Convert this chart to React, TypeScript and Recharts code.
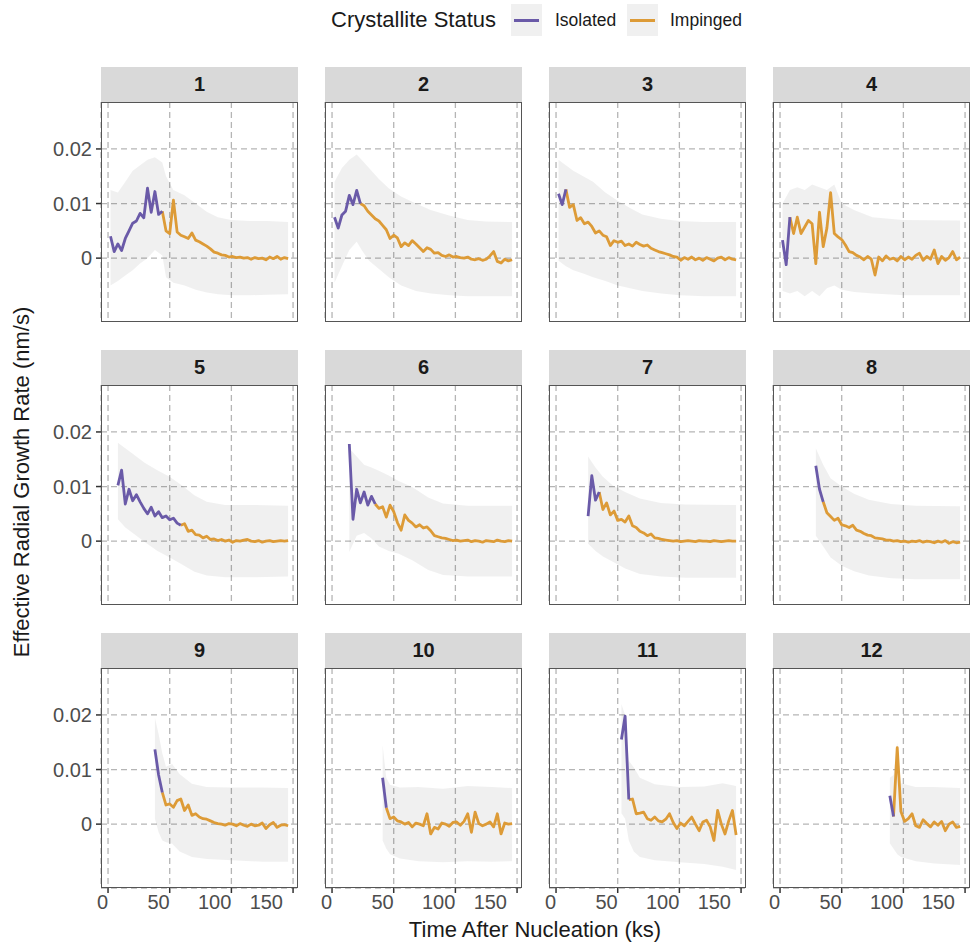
import { ComposedChart, Line, Area, XAxis, YAxis, CartesianGrid } from 'recharts';

const FONT = '"Liberation Sans", Arial, Helvetica, sans-serif';
const ISOLATED = '#6a5aa8';
const IMPINGED = '#dd9b37';

// shared sampling times (ks)
const TIME = [
  2, 5, 8, 11, 14, 17, 20, 23, 26, 29, 32, 35, 38, 41, 44, 47, 50, 53, 56, 59, 62, 65, 68, 71, 74,
  77, 80, 83, 86, 89, 92, 95, 98, 101, 104, 107, 110, 113, 116, 119, 122, 125, 128, 131, 134, 137,
  140, 143, 146,
];
const X_TICKS = [0, 50, 100, 150];
const Y_TICKS = [0, 0.01, 0.02];
const MILLI = 0.001; // rates and bands below are written in 10^-3 nm/s

const RATE_1 = [4.0, 1.2, 2.6, 1.4, 3.6, 5.0, 6.4, 6.8, 8.2, 7.4, 12.8, 8.4, 12.2, 8.0, 8.6, 5.0, 4.5, 10.6, 4.8, 4.2, 3.9, 3.6, 4.6, 3.3, 3.0, 2.6, 2.2, 1.7, 1.1, 0.9, 0.6, 0.5, 0.2, 0.3, 0.1, 0.2, 0.0, 0.1, -0.2, 0.1, -0.1, 0.0, -0.3, 0.2, -0.1, 0.3, -0.2, 0.1, -0.1];
const RATE_2 = [7.5, 5.5, 7.9, 8.6, 11.5, 9.8, 12.4, 10.0, 9.6, 8.6, 7.9, 7.2, 6.8, 6.0, 5.2, 3.6, 4.2, 3.7, 2.1, 2.8, 2.3, 3.2, 2.6, 1.9, 1.2, 1.9, 1.6, 0.9, 1.0, 0.5, 0.3, 0.6, 0.2, 0.3, 0.1, 0.0, 0.2, -0.2, -0.3, -0.1, -0.4, -0.2, 0.4, 1.2, -0.6, -0.9, -0.2, -0.5, -0.3];
const RATE_3 = [11.8, 9.8, 12.6, 9.3, 9.8, 6.9, 7.4, 6.3, 6.6, 5.8, 4.6, 5.0, 4.2, 3.9, 2.3, 3.2, 2.9, 3.1, 2.3, 2.6, 2.2, 2.9, 2.5, 2.2, 2.4, 1.8, 1.5, 1.2, 1.0, 0.8, 0.6, 0.3, 0.2, -0.4, 0.1, -0.2, 0.2, -0.3, 0.0, -0.4, 0.1, -0.2, -0.5, 0.0, 0.2, -0.3, 0.1, -0.2, -0.3];
const RATE_4 = [3.3, -1.2, 7.5, 4.5, 7.5, 4.5, 5.7, 6.9, 6.3, -1.0, 8.4, 2.1, 5.5, 12.0, 4.5, 3.9, 3.4, 2.4, 1.2, 1.0, 0.5, 0.2, -0.3, 0.3, -0.2, -3.1, 0.2, -0.5, 0.4, -0.2, 0.0, -0.5, 0.3, -0.3, 0.2, -0.2, 0.5, 0.9, -0.4, 0.3, -0.2, 1.5, -1.0, 0.3, -0.4, 0.1, 1.2, -0.3, 0.2];
const RATE_5 = [10.2, 13.0, 6.8, 9.5, 7.4, 8.5, 7.2, 6.0, 5.0, 6.2, 4.6, 5.4, 4.3, 4.6, 3.9, 4.2, 3.3, 2.9, 3.2, 1.8, 2.0, 1.2, 1.1, 0.6, 0.9, 0.3, 0.4, 0.1, 0.3, 0.0, 0.2, -0.2, 0.1, 0.0, 0.2, 0.3, 0.0, -0.1, 0.1, -0.2, 0.0, 0.1, -0.1, 0.0, 0.1, 0.0, 0.1];
const RATE_6 = [17.8, 4.0, 9.5, 7.0, 9.0, 6.6, 8.2, 6.8, 6.0, 6.3, 4.4, 6.6, 5.4, 3.4, 2.0, 4.8, 3.8, 3.3, 2.6, 3.0, 2.4, 2.6, 1.9, 1.0, 0.8, 0.6, 0.5, 0.3, 0.1, 0.2, 0.0, 0.1, 0.2, -0.1, 0.1, 0.0, -0.2, 0.1, 0.0, -0.1, 0.2, 0.0, -0.1, 0.1, 0.0];
const RATE_7 = [4.6, 12.0, 7.5, 9.0, 5.8, 7.0, 4.8, 5.5, 3.8, 4.0, 3.5, 4.6, 2.8, 2.5, 1.8, 1.5, 1.0, 1.3, 0.6, 0.5, 0.3, 0.2, 0.1, 0.0, 0.1, -0.1, 0.0, 0.1, 0.0, -0.1, 0.1, 0.0, 0.0, -0.1, 0.1, 0.0, -0.1, 0.0, 0.1, 0.0, 0.0];
const RATE_8 = [13.8, 9.5, 7.2, 5.2, 4.5, 3.8, 4.2, 3.0, 2.8, 2.5, 2.9, 2.0, 1.8, 1.4, 1.1, 1.0, 0.6, 0.5, 0.4, 0.2, 0.2, 0.0, 0.1, -0.1, 0.0, -0.2, 0.0, -0.1, 0.1, -0.2, 0.0, -0.1, -0.3, 0.0, -0.2, 0.1, -0.4, -0.1, -0.3, -0.2];
const RATE_9 = [13.7, 9.0, 5.8, 3.5, 3.7, 3.1, 4.3, 4.6, 2.5, 3.5, 1.6, 1.9, 1.3, 1.0, 0.9, 0.6, 0.3, 0.1, 0.0, -0.2, 0.1, 0.0, -0.3, 0.1, -0.2, -0.4, 0.0, -0.3, -0.2, 0.2, -0.8, -0.1, 0.3, -0.6, -0.2, -0.1, -0.3];
const RATE_10 = [8.5, 3.0, 1.0, 1.3, 0.6, 0.4, 0.0, 0.3, -0.5, 0.2, 0.0, -0.3, 1.9, -1.8, -0.6, -0.9, 0.2, 0.0, -0.4, 0.3, 0.4, -0.2, 0.5, 1.9, -1.5, 2.2, 0.1, -0.3, 0.0, 0.4, -0.5, 1.9, -1.8, 0.2, 0.0, 0.1];
const RATE_11 = [15.5, 19.8, 4.5, 4.6, 1.9, 2.0, 2.2, 1.0, 0.7, 1.3, 0.6, 0.4, 0.9, 1.9, 0.3, -0.8, 0.2, -0.3, 0.5, 1.3, 0.0, -1.2, 0.4, 0.7, -0.5, -3.0, 2.5, 0.0, -1.8, 0.6, 2.5, -2.0];
const RATE_12 = [5.2, 1.4, 14.0, 2.3, 0.5, 1.0, 1.9, -0.3, -0.6, 0.8, 0.1, -0.5, 0.4, -0.2, 0.5, -1.2, 0.0, 0.4, -0.6, -0.4];

// uncertainty band: [time, lower, upper]
const BAND_1 = [[2, -5, 12.5], [8, -4.2, 12], [14, -3.2, 14], [20, -2.2, 16], [26, -1, 17], [32, 0, 18], [38, 1.5, 18.5], [44, 0.5, 17.5], [47, -3.5, 15], [53, -4.5, 12.5], [62, -5, 11.5], [71, -5.8, 10], [80, -6.3, 8.5], [89, -6.6, 7.5], [100, -6.8, 7], [115, -6.8, 6.8], [130, -6.7, 6.8], [146, -6.6, 6.6]];
const BAND_2 = [[2, -4.5, 14], [8, -1.5, 16.5], [14, 1.5, 18], [20, 3, 19], [24, 1.5, 18], [30, -0.5, 16.5], [38, -2, 14.5], [46, -3.5, 12.8], [56, -5, 11.3], [68, -6, 10], [80, -6.5, 8.8], [95, -6.8, 7.8], [110, -7, 7], [125, -7, 6.7], [146, -7, 6.6]];
const BAND_3 = [[2, -0.5, 18], [8, -1.5, 17], [14, -2.2, 16], [22, -2.8, 15], [30, -3.5, 14], [40, -4.2, 12], [50, -5, 10.5], [60, -5.5, 9.2], [70, -6, 8], [85, -6.5, 7.2], [100, -6.8, 6.8], [120, -7, 6.6], [146, -7, 6.6]];
const BAND_4 = [[2, -6, 10], [8, -6.5, 12.5], [14, -6, 13], [20, -7, 12.5], [26, -6, 13.5], [32, -7, 13], [38, -5.5, 12.5], [44, -5, 13.5], [50, -5.8, 10], [60, -6.2, 8.8], [75, -6.5, 7.5], [100, -6.8, 7], [146, -6.8, 6.9]];
const BAND_5 = [[8, 4, 18], [14, 2.5, 17], [20, 1.5, 16], [30, -0.2, 14.3], [40, -1.8, 13], [50, -3, 11.8], [60, -4.3, 10.2], [70, -5.6, 8.4], [80, -6.3, 7.2], [95, -6.6, 6.6], [120, -6.6, 6.6], [146, -6.5, 6.5]];
const BAND_6 = [[14, -2, 17], [20, 1, 15.5], [26, 1.5, 14], [32, 0.5, 13.5], [38, -1, 12.9], [46, -1.8, 12], [54, -2.3, 11], [65, -3.5, 9.9], [78, -5.3, 8], [90, -6.2, 6.9], [110, -6.5, 6.5], [146, -6.5, 6.5]];
const BAND_7 = [[26, -0.5, 15.5], [32, -1.8, 13.5], [38, -2.8, 11.8], [46, -3.8, 10.2], [56, -5, 9], [68, -6, 7.8], [85, -6.5, 7], [105, -6.7, 6.7], [146, -6.7, 6.6]];
const BAND_8 = [[29, 1, 17], [35, -1, 14], [41, -3, 11.5], [50, -4.5, 10], [60, -5.5, 8.7], [72, -6.3, 7.6], [90, -6.8, 6.8], [110, -7, 6.5], [146, -7, 6.4]];
const BAND_9 = [[38, 1, 19.5], [41, -1.5, 16.5], [44, -3, 13], [47, -3.3, 10.5], [52, -3.6, 11], [58, -5, 9.2], [68, -6, 7.4], [80, -6.4, 6.8], [100, -6.6, 6.7], [125, -6.9, 6.7], [146, -6.9, 6.6]];
const BAND_10 = [[41, -3, 14.5], [44, -4.5, 8.5], [47, -5.5, 7.2], [55, -6.3, 6.7], [70, -6.8, 6.8], [90, -7, 6.5], [110, -6.8, 7], [130, -6.9, 6.8], [146, -6.8, 6.6]];
const BAND_11 = [[53, 2, 22], [56, 1, 20], [59, -3, 11.6], [63, -5, 10.4], [68, -6, 8.5], [80, -6.6, 7.3], [100, -7, 6.8], [120, -7.3, 6.9], [135, -7.8, 7.5], [146, -8.4, 7]];
const BAND_12 = [[89, -3.5, 8.5], [92, -4.5, 9], [95, -5.5, 15], [98, -6, 7.5], [110, -6.8, 6.8], [125, -7.2, 6.8], [146, -7.5, 6.6]];

const RATES = [RATE_1, RATE_2, RATE_3, RATE_4, RATE_5, RATE_6, RATE_7, RATE_8, RATE_9, RATE_10, RATE_11, RATE_12];
const BANDS = [BAND_1, BAND_2, BAND_3, BAND_4, BAND_5, BAND_6, BAND_7, BAND_8, BAND_9, BAND_10, BAND_11, BAND_12];
const START_INDEX = [0, 0, 0, 0, 2, 4, 8, 9, 12, 13, 17, 29];
const SWITCH_TIME = [44, 23, 8, 8, 59, 35, 35, 35, 44, 44, 59, 92];

// layout
const COL_X = [101, 325, 549, 773];
const ROW_Y = [67, 350, 633];
const PANEL_W = 197;
const PANEL_H = 220;
const STRIP_H = 35;
const LEFT_PAD = 16; // room for the "0" x tick label that hangs left of the panel

interface Row {
  t: number;
  iso?: number;
  imp?: number;
  band?: [number, number];
}

function buildRows(i: number): Row[] {
  const rows = new Map<number, Row>();
  const get = (t: number) => {
    let r = rows.get(t);
    if (!r) {
      r = { t };
      rows.set(t, r);
    }
    return r;
  };
  RATES[i].forEach((v, k) => {
    const t = TIME[START_INDEX[i] + k];
    const r = get(t);
    if (t <= SWITCH_TIME[i]) r.iso = v * MILLI;
    if (t >= SWITCH_TIME[i]) r.imp = v * MILLI;
  });
  BANDS[i].forEach(([t, lo, hi]) => {
    get(t).band = [lo * MILLI, hi * MILLI];
  });
  return [...rows.values()].sort((a, b) => a.t - b.t);
}

function Panel({ index }: { index: number }) {
  const col = index % 4;
  const row = Math.floor(index / 4);
  const showY = col === 0;
  const showX = row === 2;
  const yW = showY ? 60 : 0;
  const padL = showY ? 0 : LEFT_PAD;
  const xH = showX ? 40 : 0;
  const top = ROW_Y[row] + STRIP_H;
  const rows = buildRows(index);

  return (
    <>
      <div
        style={{
          position: 'absolute',
          left: COL_X[col],
          top: ROW_Y[row],
          width: PANEL_W,
          height: STRIP_H,
          background: '#d9d9d9',
          display: 'flex',
          alignItems: 'center',
          justifyContent: 'center',
          fontWeight: 'bold',
          fontSize: 20,
          color: '#1a1a1a',
        }}
      >
        {index + 1}
      </div>
      <div style={{ position: 'absolute', left: COL_X[col] - yW - padL, top }}>
        <ComposedChart
          width={PANEL_W + yW + padL}
          height={PANEL_H + xH}
          data={rows}
          margin={{ top: 0, right: 0, bottom: 0, left: padL }}
        >
          <CartesianGrid stroke="#b5b5b5" strokeWidth={1.3} strokeDasharray="6 4" />
          <XAxis
            type="number"
            dataKey="t"
            domain={[-5.7, 154]}
            ticks={X_TICKS}
            allowDataOverflow
            hide={!showX}
            height={xH}
            axisLine={false}
            tickSize={5}
            tickMargin={2}
            tickLine={{ stroke: '#333', strokeWidth: 1.5 }}
            tick={{ fill: '#4d4d4d', fontSize: 20, fontFamily: FONT, textAnchor: 'end' }}
          />
          <YAxis
            type="number"
            domain={[-0.0117, 0.0286]}
            ticks={Y_TICKS}
            allowDataOverflow
            hide={!showY}
            width={yW}
            axisLine={false}
            tickSize={5}
            tickMargin={4}
            tickLine={{ stroke: '#333', strokeWidth: 1.5 }}
            tick={{ fill: '#4d4d4d', fontSize: 20, fontFamily: FONT }}
            tickFormatter={(v: number) => String(v)}
          />
          <Area
            dataKey="band"
            stroke="none"
            fill="#000"
            fillOpacity={0.06}
            connectNulls
            isAnimationActive={false}
          />
          <Line
            dataKey="imp"
            stroke={IMPINGED}
            strokeWidth={2.8}
            strokeLinejoin="round"
            dot={false}
            connectNulls
            isAnimationActive={false}
          />
          <Line
            dataKey="iso"
            stroke={ISOLATED}
            strokeWidth={2.8}
            strokeLinejoin="round"
            dot={false}
            connectNulls
            isAnimationActive={false}
          />
        </ComposedChart>
      </div>
      <div
        style={{
          position: 'absolute',
          left: COL_X[col],
          top,
          width: PANEL_W,
          height: PANEL_H,
          border: '1.5px solid #555',
          boxSizing: 'border-box',
          pointerEvents: 'none',
        }}
      />
    </>
  );
}

function LegendKey({ left, color }: { left: number; color: string }) {
  return (
    <div style={{ position: 'absolute', left, top: 4, width: 31, height: 32, background: '#f0f0f0' }}>
      <div style={{ position: 'absolute', left: 3, right: 3, top: 14.5, height: 3, background: color }} />
    </div>
  );
}

export default function App() {
  return (
    <div
      style={{
        position: 'absolute',
        left: 0,
        top: 0,
        width: 973,
        height: 944,
        background: '#fff',
        fontFamily: FONT,
        color: '#1a1a1a',
      }}
    >
      <div style={{ position: 'absolute', left: 331, top: 6, height: 28, lineHeight: '28px', fontSize: 22 }}>
        Crystallite Status
      </div>
      <LegendKey left={511} color={ISOLATED} />
      <div style={{ position: 'absolute', left: 555, top: 6, height: 28, lineHeight: '28px', fontSize: 17.5 }}>
        Isolated
      </div>
      <LegendKey left={627} color={IMPINGED} />
      <div style={{ position: 'absolute', left: 670, top: 6, height: 28, lineHeight: '28px', fontSize: 17.5 }}>
        Impinged
      </div>

      {RATES.map((_, i) => (
        <Panel key={i} index={i} />
      ))}

      <div
        style={{
          position: 'absolute',
          left: 535,
          top: 930,
          transform: 'translate(-50%, -50%)',
          fontSize: 22,
          whiteSpace: 'nowrap',
        }}
      >
        Time After Nucleation (ks)
      </div>
      <div
        style={{
          position: 'absolute',
          left: 22,
          top: 482,
          transform: 'translate(-50%, -50%) rotate(-90deg)',
          fontSize: 22,
          whiteSpace: 'nowrap',
        }}
      >
        Effective Radial Growth Rate (nm/s)
      </div>
    </div>
  );
}
